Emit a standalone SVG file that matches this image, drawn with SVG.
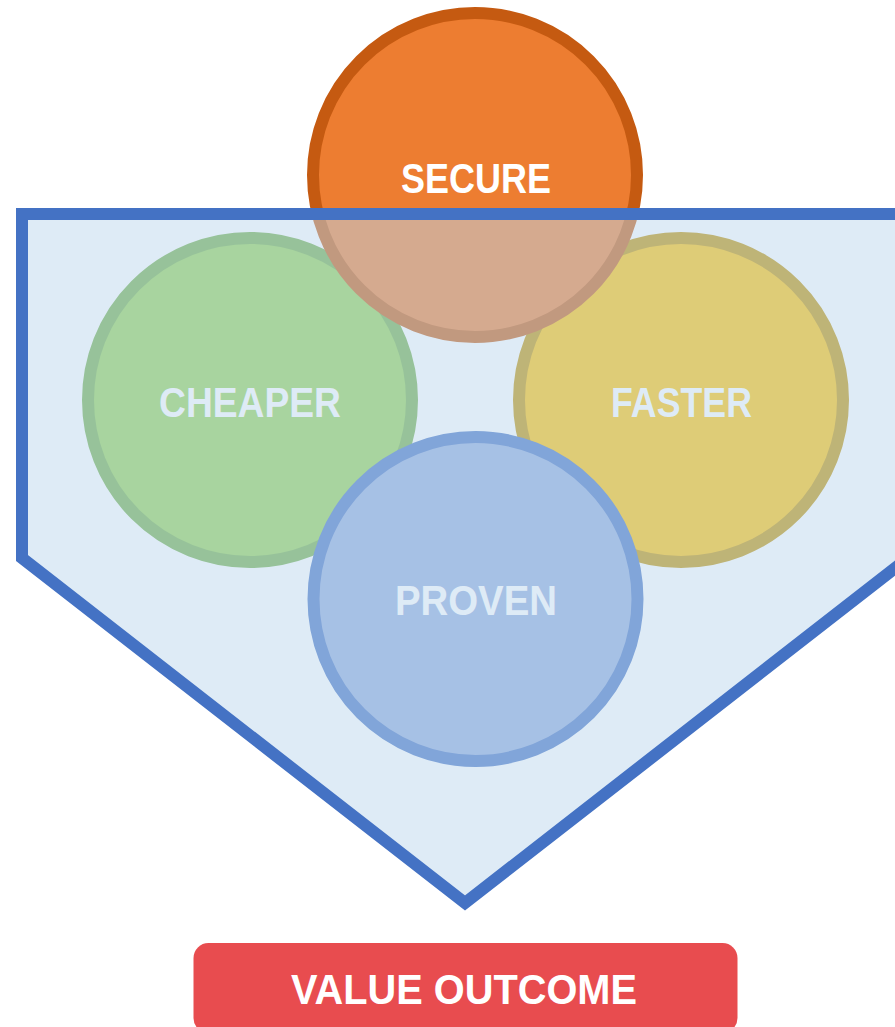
<svg xmlns="http://www.w3.org/2000/svg" width="895" height="1027" viewBox="0 0 895 1027">
  <style>
    .ring { stroke-width: 12; }
    .lbl { font-family: "Liberation Sans", Arial, sans-serif; font-weight: bold; font-size: 42px; fill: #FFFFFF; text-anchor: middle; }
  </style>
  <rect width="895" height="1027" fill="#FFFFFF"/>
  <g id="cheaper">
    <circle class="ring" cx="250" cy="400" r="162" fill="#92D050" stroke="#70AD47"/>
    <text class="lbl" x="250" y="417" textLength="182" lengthAdjust="spacingAndGlyphs">CHEAPER</text>
  </g>
  <g id="faster">
    <circle class="ring" cx="681" cy="400" r="162" fill="#FFC000" stroke="#BF9000"/>
    <text class="lbl" x="681.5" y="417" textLength="141" lengthAdjust="spacingAndGlyphs">FASTER</text>
  </g>
  <g id="secure">
    <circle class="ring" cx="475" cy="175" r="162" fill="#ED7D31" stroke="#C55A11"/>
    <text class="lbl" x="476" y="193" textLength="150" lengthAdjust="spacingAndGlyphs">SECURE</text>
  </g>
  <g id="proven">
    <circle class="ring" cx="475.5" cy="599" r="162" fill="#8FAADC" stroke="#4472C4"/>
    <text class="lbl" x="476" y="615" textLength="162" lengthAdjust="spacingAndGlyphs">PROVEN</text>
  </g>
  <g id="frame">
    <path d="M22,214 H908 V558 L465,903 L22,558 Z" fill="#BDD7EE" fill-opacity="0.5" stroke="#4472C4" stroke-width="12" stroke-linejoin="miter"/>
  </g>
  <g id="connectors"></g>
  <g id="value-outcome">
    <rect x="193.5" y="943" width="544" height="90" rx="15" ry="15" fill="#E84C4F"/>
    <text class="lbl" x="464" y="1004" textLength="346" lengthAdjust="spacingAndGlyphs">VALUE OUTCOME</text>
  </g>
</svg>
